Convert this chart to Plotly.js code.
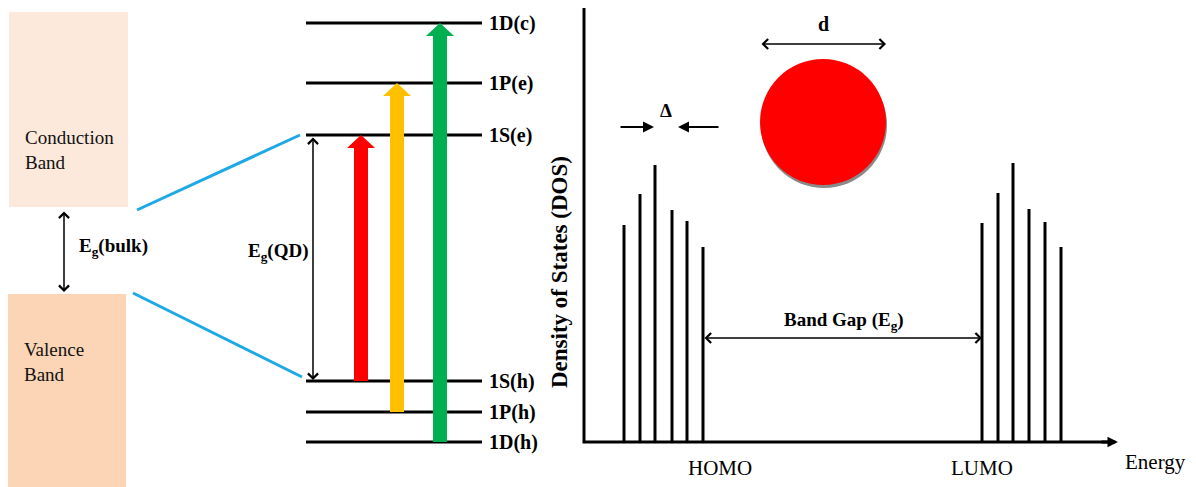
<!DOCTYPE html>
<html>
<head>
<meta charset="utf-8">
<script src="https://cdn.plot.ly/plotly-3.0.1.min.js"></script>
<style>html,body{margin:0;padding:0;background:#fff;}#chart{width:1196px;height:487px;}</style>
</head>
<body>
<div id="chart"></div>
<script>
// ---------- values (canvas units: x to the right, y downward) ----------
// Bulk semiconductor bands
const bandNames   = ['Conduction<br>Band', 'Valence<br>Band'];
const bandLeft    = [9, 8];
const bandRight   = [128, 126];
const bandTop     = [12, 294];
const bandBottom  = [207, 487];
const bandColors  = ['#FCE9DB', '#FBD5B5'];

// Quantum-dot discrete levels
const levelNames  = ['1D(c)', '1P(e)', '1S(e)', '1S(h)', '1P(h)', '1D(h)'];
const levelE      = [23, 83, 135, 381, 412, 442];

// Optical transitions (hole level -> electron level)
const transFrom   = ['1S(h)', '1P(h)', '1D(h)'];
const transTo     = ['1S(e)', '1P(e)', '1D(c)'];
const transPos    = [361, 397, 440];
const transColors = ['#FF0000', '#FFC000', '#00B050'];

// Density of states peaks (position on energy axis, peak top)
const homoE   = [624, 640, 655, 672, 687, 703];
const homoDOS = [225, 194, 165, 210, 221, 247];
const lumoE   = [982, 998, 1013, 1029, 1045, 1061];
const lumoDOS = [223, 193, 163, 209, 222, 247];
const dosBase = 442;

// Nanoparticle
const dotCenter = [823, 122];
const dotDiam   = 126;

// ---------- build ----------
const FONT = 'Liberation Serif';
const traces = [];
const shapes = [];
const ann = [];
const lvl = n => levelE[levelNames.indexOf(n)];

// bulk bands
bandNames.forEach((n, i) => {
  shapes.push({type:'rect', xref:'x', yref:'y', x0:bandLeft[i], x1:bandRight[i], y0:bandTop[i], y1:bandBottom[i],
    fillcolor:bandColors[i], line:{width:0}, layer:'below'});
  ann.push({x:bandLeft[i]+14, y:(i===0?150:362), xref:'x', yref:'y', text:n, showarrow:false,
    xanchor:'left', yanchor:'middle', align:'left', font:{family:FONT, size:19, color:'#111'}});
});

// connection lines bulk -> QD
traces.push({x:[137, 300, null, 133, 302], y:[210, lvl('1S(e)'), null, 293, lvl('1S(h)')-4],
  mode:'lines', line:{color:'#1CA9E6', width:3}, hoverinfo:'skip'});

// QD levels
const lx = [], ly = [];
levelE.forEach(e => { lx.push(306, 482, null); ly.push(e, e, null); });
traces.push({x:lx, y:ly, mode:'lines', line:{color:'#000', width:3}, hoverinfo:'skip'});
levelNames.forEach((n, i) => ann.push({x:487, y:levelE[i], xref:'x', yref:'y', text:'<b>'+n+'</b>', showarrow:false,
  xanchor:'left', yanchor:'middle', font:{family:FONT, size:20, color:'#000'}}));

// transition arrows (block arrows)
transFrom.forEach((f, i) => {
  const x = transPos[i], yb = lvl(f), yt = lvl(transTo[i]);
  const sw = 7, hw = 14, hh = 13;
  traces.push({x:[x-sw, x-sw, x-hw, x, x+hw, x+sw, x+sw, x-sw],
               y:[yb, yt+hh, yt+hh, yt, yt+hh, yt+hh, yb, yb],
               mode:'lines', fill:'toself', fillcolor:transColors[i], line:{width:0, color:transColors[i]}, hoverinfo:'skip'});
});

// double-headed thin arrows
function dbl(x0, y0, x1, y1, w, head, size) {
  ann.push({x:x1, y:y1, ax:x0, ay:y0, xref:'x', yref:'y', axref:'x', ayref:'y', text:'', showarrow:true,
    arrowside:'end+start', arrowhead:head, arrowsize:size, arrowwidth:w, arrowcolor:'#000', standoff:0, startstandoff:0});
}
dbl(64, 210, 64, 292, 1.5, 4, 1.3);
ann.push({x:77, y:247, xref:'x', yref:'y', text:'<b>E<sub>g</sub>(bulk)</b>', showarrow:false, xanchor:'left',
  font:{family:FONT, size:19, color:'#000'}});
dbl(313, lvl('1S(e)')+1, 313, lvl('1S(h)')-1, 1.5, 4, 1.3);
ann.push({x:311, y:252, xref:'x', yref:'y', text:'<b>E<sub>g</sub>(QD)</b>', showarrow:false, xanchor:'right',
  font:{family:FONT, size:19, color:'#000'}});

// DOS axes
traces.push({x:[584, 584, 1110], y:[8, dosBase, dosBase], mode:'lines', line:{color:'#000', width:3}, hoverinfo:'skip'});
ann.push({x:1118, y:dosBase, ax:1100, ay:dosBase, xref:'x', yref:'y', axref:'x', ayref:'y', text:'', showarrow:true,
  arrowhead:2, arrowsize:0.7, arrowwidth:3, arrowcolor:'#000', standoff:0});

// DOS peaks
const px = [], py = [];
homoE.concat(lumoE).forEach((e, i) => { px.push(e, e, null); py.push(dosBase, homoDOS.concat(lumoDOS)[i], null); });
traces.push({x:px, y:py, mode:'lines', line:{color:'#000', width:3}, hoverinfo:'skip'});

// Band gap arrow
dbl(homoE[homoE.length-1], 338, lumoE[0], 338, 1.5, 4, 1.3);
ann.push({x:844, y:321, xref:'x', yref:'y', text:'<b>Band Gap (E<sub>g</sub>)</b>', showarrow:false,
  font:{family:FONT, size:19, color:'#000'}});

// Delta arrows
ann.push({x:654, y:127, ax:619, ay:127, xref:'x', yref:'y', axref:'x', ayref:'y', text:'', showarrow:true,
  arrowhead:2, arrowsize:1.1, arrowwidth:2, arrowcolor:'#000', standoff:0});
ann.push({x:678, y:127, ax:720, ay:127, xref:'x', yref:'y', axref:'x', ayref:'y', text:'', showarrow:true,
  arrowhead:2, arrowsize:1.1, arrowwidth:2, arrowcolor:'#000', standoff:0});
ann.push({x:666, y:110, xref:'x', yref:'y', text:'<b>Δ</b>', showarrow:false, font:{family:FONT, size:19, color:'#000'}});

// nanoparticle + diameter
const r = dotDiam/2;
shapes.push({type:'circle', xref:'x', yref:'y', x0:dotCenter[0]-r+1, x1:dotCenter[0]+r+1, y0:dotCenter[1]-r+3, y1:dotCenter[1]+r+3,
  fillcolor:'#8a8a8a', line:{width:0}});
shapes.push({type:'circle', xref:'x', yref:'y', x0:dotCenter[0]-r, x1:dotCenter[0]+r, y0:dotCenter[1]-r, y1:dotCenter[1]+r,
  fillcolor:'#FF0000', line:{width:0}});
dbl(dotCenter[0]-r, 44, dotCenter[0]+r, 44, 1.5, 4, 1.3);
ann.push({x:dotCenter[0], y:24, xref:'x', yref:'y', text:'<b>d</b>', showarrow:false, font:{family:FONT, size:20, color:'#000'}});

// axis texts
ann.push({x:559, y:272, xref:'x', yref:'y', text:'<b>Density of States (DOS)</b>', textangle:-90, showarrow:false,
  font:{family:FONT, size:23, color:'#000'}});
ann.push({x:720, y:468, xref:'x', yref:'y', text:'HOMO', showarrow:false, font:{family:FONT, size:21, color:'#000'}});
ann.push({x:982, y:468, xref:'x', yref:'y', text:'LUMO', showarrow:false, font:{family:FONT, size:21, color:'#000'}});
ann.push({x:1155, y:462, xref:'x', yref:'y', text:'Energy', showarrow:false, font:{family:FONT, size:21, color:'#000'}});

const layout = {
  width:1196, height:487, margin:{l:0, r:0, t:0, b:0},
  paper_bgcolor:'#fff', plot_bgcolor:'#fff', showlegend:false,
  xaxis:{range:[0, 1196], visible:false, fixedrange:true},
  yaxis:{range:[487, 0], visible:false, fixedrange:true},
  shapes:shapes, annotations:ann
};
Plotly.newPlot('chart', traces, layout, {staticPlot:true, displayModeBar:false});
</script>
</body>
</html>
